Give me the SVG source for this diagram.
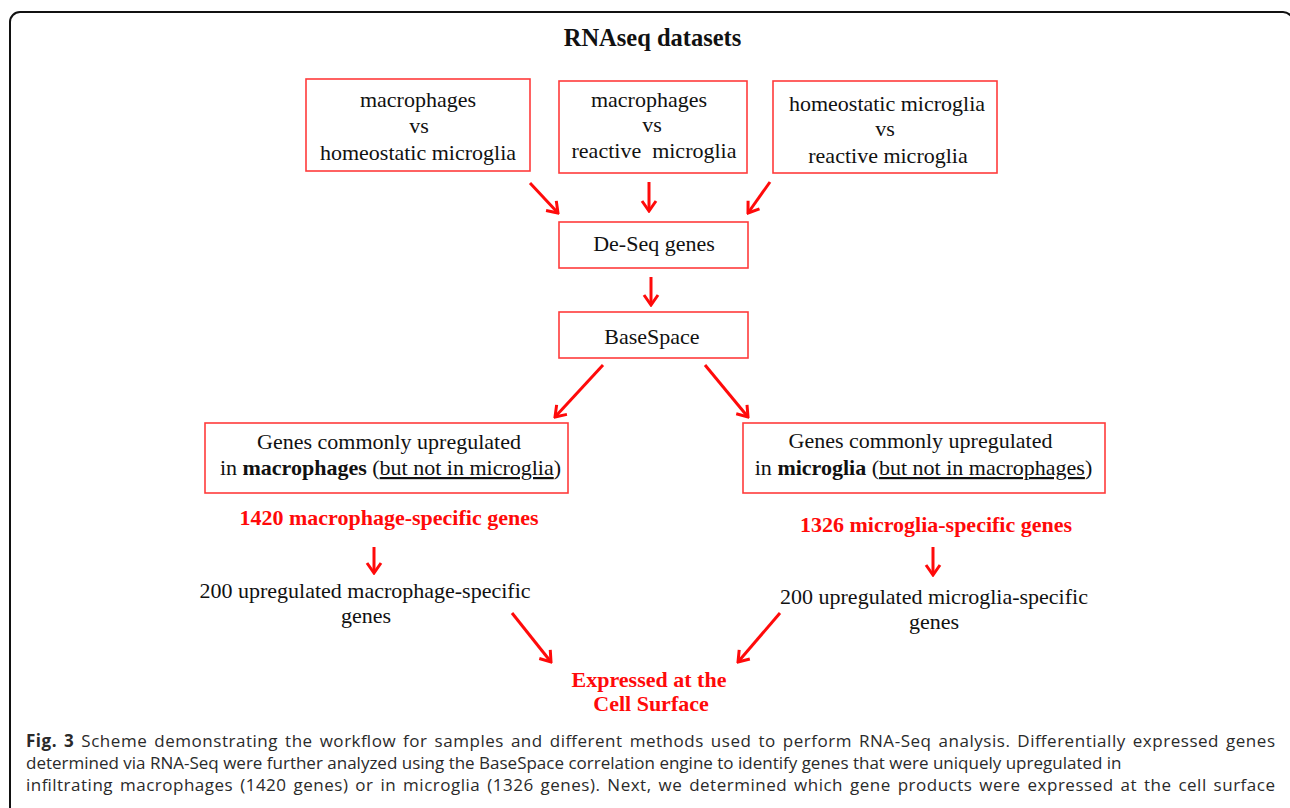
<svg xmlns="http://www.w3.org/2000/svg" width="1290" height="808" viewBox="0 0 1290 808">
<style>
.box{fill:#fff;stroke:#ff3b3b;stroke-width:1.6}
.t{font-family:"Liberation Serif","Times New Roman",serif;font-size:22px;fill:#111;text-anchor:middle}
.r{font-family:"Liberation Serif","Times New Roman",serif;font-size:22px;font-weight:bold;fill:#ff0a0a;text-anchor:middle}
.cap{font-family:"Open Sans","Noto Sans",sans-serif;font-size:17px;fill:#2a2a2a}
.arr{stroke:#ff0a0a;stroke-width:3;fill:none;marker-end:url(#ah)}
</style>
<defs>
<marker id="ah" viewBox="0 0 15 18" refX="13" refY="9" markerWidth="15" markerHeight="18" markerUnits="userSpaceOnUse" orient="auto">
<path d="M3,2 L13,9 L3,16" fill="none" stroke="#ff0a0a" stroke-width="3"/>
</marker>
</defs>
<rect width="1290" height="808" fill="#fff"/>
<path d="M10,812 V22 A10,10 0 0 1 20,12 H1283 A10,10 0 0 1 1293,22 V812" fill="none" stroke="#111" stroke-width="2"/>
<text x="652.5" y="46" font-family="Liberation Serif, Times New Roman, serif" font-size="24.5" font-weight="bold" fill="#111" text-anchor="middle">RNAseq datasets</text>
<g id="n1"><rect class="box" x="306" y="79" width="224" height="92"/>
<text class="t" x="418" y="107">macrophages</text><text class="t" x="419" y="133">vs</text><text class="t" x="418" y="160">homeostatic microglia</text></g>
<g id="n2"><rect class="box" x="559" y="81" width="188" height="92"/>
<text class="t" x="649" y="107">macrophages</text><text class="t" x="652" y="132">vs</text><text class="t" x="654" y="158" xml:space="preserve">reactive  microglia</text></g>
<g id="n3"><rect class="box" x="773" y="81" width="224" height="92"/>
<text class="t" x="887" y="111">homeostatic microglia</text><text class="t" x="885" y="136">vs</text><text class="t" x="888" y="163">reactive microglia</text></g>
<g id="n4"><rect class="box" x="559" y="222" width="189" height="46"/>
<text class="t" x="654" y="251">De-Seq genes</text></g>
<g id="n5"><rect class="box" x="559" y="312" width="189" height="46"/>
<text class="t" x="652" y="344">BaseSpace</text></g>
<g id="n6"><rect class="box" x="205" y="423" width="363" height="70"/>
<text class="t" x="389" y="449">Genes commonly upregulated</text>
<text class="t" x="390.5" y="475">in <tspan font-weight="bold">macrophages</tspan> (<tspan text-decoration="underline">but not in microglia</tspan>)</text></g>
<g id="n7"><rect class="box" x="743" y="423" width="362" height="70"/>
<text class="t" x="920.5" y="448">Genes commonly upregulated</text>
<text class="t" x="923.5" y="475">in <tspan font-weight="bold">microglia</tspan> (<tspan text-decoration="underline">but not in macrophages</tspan>)</text></g>
<g id="n8"><text class="r" x="389" y="525">1420 macrophage-specific genes</text></g>
<g id="n9"><text class="r" x="936" y="532">1326 microglia-specific genes</text></g>
<g id="n10"><text class="t" x="365" y="598">200 upregulated macrophage-specific</text><text class="t" x="366" y="623">genes</text></g>
<g id="n11"><text class="t" x="934" y="604">200 upregulated microglia-specific</text><text class="t" x="934" y="629">genes</text></g>
<g id="n12"><text class="r" x="649" y="687">Expressed at the</text><text class="r" x="651" y="711">Cell Surface</text></g>
<g id="connectors">
<line class="arr" x1="530" y1="183" x2="558" y2="213"/>
<line class="arr" x1="649" y1="182" x2="649" y2="211"/>
<line class="arr" x1="770" y1="182" x2="748" y2="213"/>
<line class="arr" x1="651" y1="277" x2="651" y2="305"/>
<line class="arr" x1="603" y1="365" x2="555" y2="417"/>
<line class="arr" x1="705" y1="365" x2="748" y2="417"/>
<line class="arr" x1="374" y1="547" x2="374" y2="573"/>
<line class="arr" x1="933" y1="547" x2="933" y2="575"/>
<line class="arr" x1="512" y1="613" x2="551" y2="662"/>
<line class="arr" x1="780" y1="613" x2="738" y2="662"/>
</g>
<text class="cap" x="26" y="747" word-spacing="2" textLength="1249" lengthAdjust="spacing"><tspan font-weight="bold">Fig. 3</tspan> Scheme demonstrating the workflow for samples and different methods used to perform RNA-Seq analysis. Differentially expressed genes</text>
<text class="cap" x="26" y="769">determined via RNA-Seq were further analyzed using the BaseSpace correlation engine to identify genes that were uniquely upregulated in</text>
<text class="cap" x="26" y="791" word-spacing="2" textLength="1249" lengthAdjust="spacing">infiltrating macrophages (1420 genes) or in microglia (1326 genes). Next, we determined which gene products were expressed at the cell surface</text>
</svg>
